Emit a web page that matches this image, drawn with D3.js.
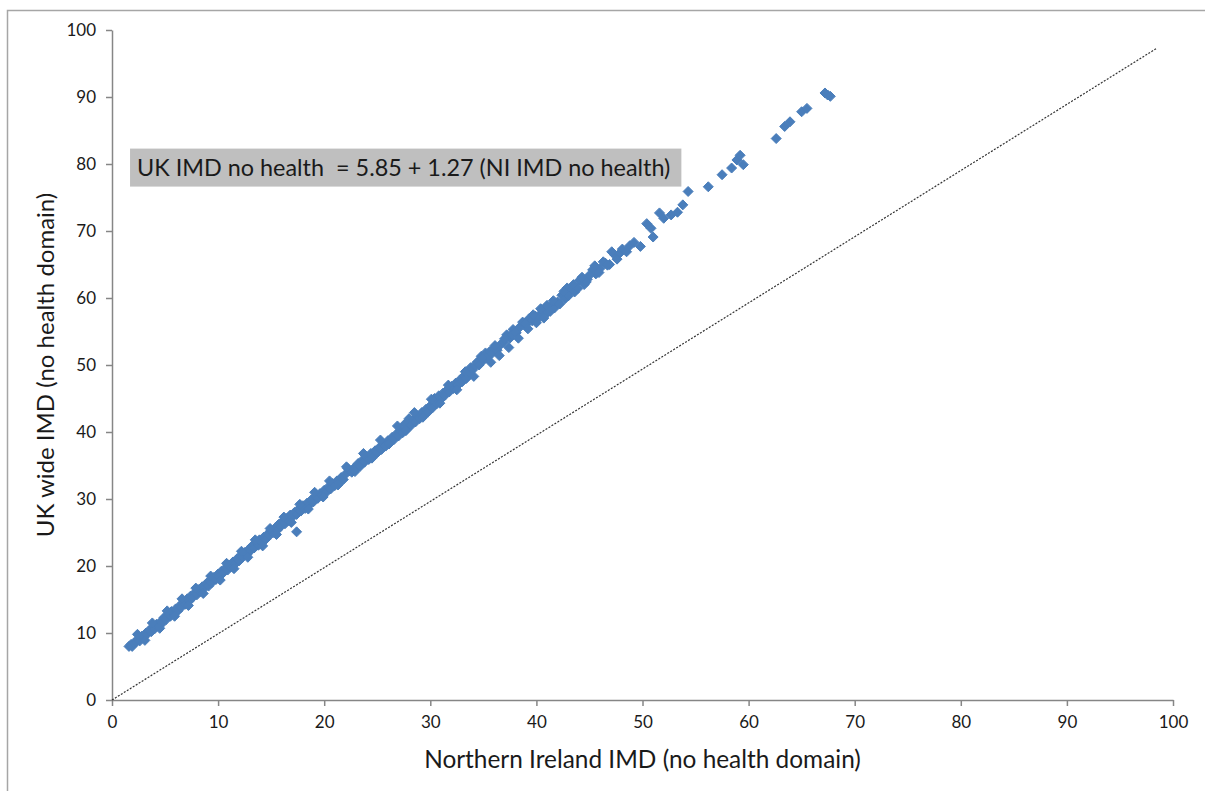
<!DOCTYPE html>
<html>
<head>
<meta charset="utf-8">
<script src="https://cdn.jsdelivr.net/npm/d3@7"></script>
<style>
  body { margin: 0; background: #fff; }
  svg { display: block; font-family: Lato, "Open Sans", sans-serif; }
  .axis path, .axis line { stroke: #868686; }
  .axis text { fill: #1a1a1a; font-size: 17px; font-family: Lato, sans-serif; }
</style>
</head>
<body>
<div id="chart"></div>
<script>
// Northern Ireland IMD vs UK wide IMD (both without the health domain)
var niImd = [1.6, 1.8, 1.9, 2.1, 2.3, 2.5, 2.6, 2.8, 3.0, 3.2, 3.3, 3.5, 3.7, 3.9, 4.0, 4.2, 4.4, 4.6, 4.7, 4.9,
  5.1, 5.3, 5.5, 5.6, 5.8, 6.0, 6.2, 6.4, 6.5, 6.7, 6.9, 7.1, 7.3, 7.4, 7.6, 7.8, 8.0, 8.2, 8.3, 8.5,
  8.7, 8.9, 9.1, 9.2, 9.4, 9.6, 9.8, 10.0, 10.1, 10.3, 10.5, 10.7, 10.9, 11.0, 11.2, 11.4, 11.6, 11.8, 12.0, 12.1,
  12.3, 12.5, 12.7, 12.9, 13.0, 13.2, 13.4, 13.6, 13.8, 13.9, 14.1, 14.3, 14.5, 14.7, 14.8, 15.0, 15.2, 15.4, 15.6, 15.7,
  15.9, 16.1, 16.3, 16.5, 16.6, 16.8, 17.0, 17.4, 17.2, 17.4, 17.6, 17.8, 18.0, 18.2, 18.4, 18.6, 18.8, 19.0, 19.2, 19.4,
  19.6, 19.8, 20.0, 20.2, 20.4, 20.6, 20.8, 21.0, 21.2, 21.4, 21.6, 21.8, 22.0, 22.2, 22.4, 22.6, 22.8, 23.0, 23.2, 23.4,
  23.6, 23.8, 24.0, 24.2, 24.4, 24.6, 24.8, 25.0, 25.2, 25.4, 25.6, 25.8, 26.0, 26.2, 26.4, 26.6, 26.8, 27.0, 27.2, 27.4,
  27.6, 27.8, 28.0, 28.2, 28.4, 28.6, 28.8, 29.0, 29.2, 29.4, 29.6, 29.8, 30.0, 30.2, 30.4, 30.6, 30.8, 31.0, 31.2, 31.4,
  31.6, 31.8, 32.0, 32.2, 32.4, 32.6, 32.8, 33.0, 33.2, 33.4, 33.6, 33.8, 34.0, 34.2, 34.4, 34.6, 34.8, 35.0, 35.2, 35.4,
  35.6, 35.8, 36.0, 36.3, 36.6, 36.9, 37.2, 37.5, 37.8, 38.1, 38.4, 38.7, 39.0, 39.3, 39.6, 39.9, 40.2, 40.5, 40.8, 41.1,
  41.4, 41.7, 42.0, 42.4, 42.7, 42.9, 43.3, 43.6, 44.1, 44.5, 44.8, 45.3, 45.6, 46.0, 46.5, 46.9, 47.4, 47.8, 48.1, 48.5,
  48.8, 49.2, 49.8, 50.4, 51.0, 50.8, 51.6, 52.0, 52.7, 53.3, 53.8, 54.3, 56.2, 57.5, 58.4, 59.5, 58.9, 59.2, 62.6, 63.4,
  63.9, 65.0, 65.5, 67.2, 67.45, 67.7,
  2.4, 3.1, 3.8, 4.5, 5.2, 5.9, 6.6, 7.2, 7.9, 8.6, 9.3, 10.2, 10.8, 11.5, 12.2, 12.8, 13.5, 14.2, 14.9, 15.5,
  16.2, 16.9, 17.7, 18.5, 19.1, 19.9, 20.5, 21.3, 22.1, 22.9, 23.7, 24.5, 25.3, 26.1, 26.9, 27.7, 28.5, 29.3, 30.1, 30.9,
  31.7, 32.5, 33.3, 34.1, 34.9, 35.7, 36.1, 36.5, 37.0, 37.4, 37.7, 38.0, 38.3, 38.9, 39.2, 39.7, 40.0, 40.4, 40.7, 41.0,
  41.3, 41.6, 42.2, 42.6, 43.0, 43.5, 43.9, 44.3, 44.7, 45.0, 45.5, 45.9, 46.3, 46.7, 47.1, 47.6];
var ukImd = [8.0, 8.3, 8.0, 8.6, 8.7, 9.1, 8.8, 9.5, 9.4, 10.0, 9.8, 10.4, 10.2, 10.9, 10.6, 11.3, 11.1, 11.7, 11.4, 12.3,
  12.0, 12.7, 12.5, 13.2, 13.0, 13.6, 13.3, 14.1, 13.8, 14.5, 14.3, 15.1, 14.8, 15.5, 15.3, 16.0, 15.7, 16.5, 16.2, 16.9,
  16.7, 17.4, 17.0, 17.8, 17.5, 18.3, 18.0, 18.8, 18.4, 19.2, 19.0, 19.7, 19.4, 20.1, 19.9, 20.6, 20.3, 21.1, 20.8, 21.5,
  21.3, 22.0, 21.7, 22.5, 22.2, 23.0, 22.7, 23.4, 23.1, 23.9, 23.6, 24.3, 24.0, 24.8, 24.5, 25.3, 25.0, 25.7, 25.4, 26.2,
  25.9, 26.7, 26.3, 27.1, 26.8, 27.6, 27.3, 25.1, 28.0, 27.7, 28.5, 28.2, 29.0, 28.6, 29.4, 29.1, 29.9, 29.6, 30.4, 30.1,
  30.8, 30.5, 31.3, 31.0, 31.8, 31.5, 32.3, 32.0, 32.7, 32.4, 33.2, 32.9, 33.7, 34.6, 34.2, 34.0, 34.6, 34.5, 35.3, 34.9,
  35.8, 35.5, 36.3, 35.9, 36.8, 36.4, 37.2, 36.9, 37.7, 37.4, 38.2, 37.9, 38.7, 38.4, 39.2, 38.9, 39.7, 39.4, 40.2, 39.9,
  41.2, 40.5, 42.0, 41.0, 41.8, 41.5, 42.3, 42.0, 42.9, 42.5, 43.4, 43.0, 43.9, 43.6, 45.0, 44.2, 45.4, 44.9, 45.8, 45.5,
  46.3, 46.0, 46.8, 46.5, 47.3, 47.0, 47.8, 47.5, 48.4, 48.0, 48.9, 49.6, 49.3, 49.9, 50.4, 50.0, 51.3, 50.7, 51.8, 51.2,
  52.0, 51.7, 52.5, 52.2, 53.0, 53.4, 54.5, 54.0, 55.3, 54.8, 55.6, 56.4, 56.0, 56.9, 56.6, 57.3, 57.0, 57.8, 58.3, 57.9,
  58.8, 58.5, 59.4, 60.4, 59.9, 61.5, 61.2, 60.9, 62.7, 62.0, 62.8, 64.2, 63.6, 64.4, 65.2, 65.0, 66.4, 66.6, 67.3, 66.9,
  67.8, 68.3, 67.7, 71.1, 69.1, 70.4, 72.7, 71.9, 72.4, 72.8, 73.9, 75.9, 76.6, 78.4, 79.4, 79.9, 80.6, 81.3, 83.8, 85.6,
  86.3, 87.8, 88.3, 90.6, 90.3, 90.1,
  9.8, 8.9, 11.5, 10.7, 13.3, 12.5, 15.1, 14.1, 16.7, 15.9, 18.5, 17.9, 20.4, 19.6, 22.2, 21.3, 23.9, 23.0, 25.6, 24.7,
  27.3, 26.5, 29.2, 28.5, 31.0, 30.3, 32.7, 32.1, 34.8, 34.1, 36.8, 36.1, 38.8, 38.2, 40.9, 40.2, 42.9, 42.2, 44.9, 44.3,
  47.0, 46.3, 49.0, 48.3, 51.0, 50.4, 52.9, 51.4, 53.9, 52.6, 54.6, 54.9, 54.0, 56.2, 55.4, 57.5, 56.3, 58.4, 57.0, 58.9,
  58.0, 59.6, 59.1, 61.0, 60.3, 62.0, 61.4, 63.1, 62.4, 63.4, 64.8, 63.8, 65.4, 64.9, 66.9, 65.8];

// reference line drawn on the chart
var refLineX = [0, 98.5];
var refLineY = [0, 97.3];

var xTicks = [0, 10, 20, 30, 40, 50, 60, 70, 80, 90, 100];
var yTicks = [0, 10, 20, 30, 40, 50, 60, 70, 80, 90, 100];

var xTitle = "Northern Ireland IMD (no health domain)";
var yTitle = "UK wide IMD (no health domain)";
var equation = "UK IMD no health  = 5.85 + 1.27 (NI IMD no health)";

var svg = d3.select("#chart").append("svg").attr("width", 1205).attr("height", 791),
  margin = {top: 30, right: 32, bottom: 91, left: 112},
  width = +svg.attr("width") - margin.left - margin.right,
  height = +svg.attr("height") - margin.top - margin.bottom;

// outer chart frame (runs off the right and bottom edges)
svg.append("rect")
  .attr("x", 7.5).attr("y", 10.5)
  .attr("width", 1300).attr("height", 900)
  .attr("fill", "none")
  .attr("stroke", "#a6a6a6")
  .attr("stroke-width", 1.5);

var g = svg.append("g").attr("transform", "translate(" + margin.left + "," + margin.top + ")");

var x = d3.scaleLinear().domain([0, 100]).range([0, width]);
var y = d3.scaleLinear().domain([0, 100]).range([height, 0]);

g.append("g")
  .attr("class", "axis axis--x")
  .attr("transform", "translate(0," + height + ")")
  .call(d3.axisBottom(x).tickValues(xTicks).tickSize(6).tickSizeOuter(0).tickPadding(10));

g.append("g")
  .attr("class", "axis axis--y")
  .call(d3.axisLeft(y).tickValues(yTicks).tickSize(6).tickSizeOuter(0).tickPadding(10));

g.selectAll(".axis path, .axis line").attr("stroke-width", 1.5);

// dotted reference line
g.append("line")
  .attr("x1", x(refLineX[0])).attr("y1", y(refLineY[0]))
  .attr("x2", x(refLineX[1])).attr("y2", y(refLineY[1]))
  .attr("stroke", "#333")
  .attr("stroke-width", 1.2)
  .attr("stroke-dasharray", "2,1.5");

// diamond markers
var r = 5;
var diamond = "M0," + (-r) + "L" + r + ",0L0," + r + "L" + (-r) + ",0Z";
g.selectAll(".pt")
  .data(niImd.map(function (d, i) { return [d, ukImd[i]]; }))
  .enter().append("path")
  .attr("class", "pt")
  .attr("d", diamond)
  .attr("transform", function (d) {
    return "translate(" + x(d[0]) + "," + y(d[1]) + ")";
  })
  .attr("fill", "#4a7ebb")
  .attr("stroke", "#4a7ebb")
  .attr("stroke-width", 1);

// regression equation label
var eqG = g.append("g").attr("transform", "translate(" + x(1.7) + "," + y(82.3) + ")");
var eqRect = eqG.append("rect").attr("fill", "#bfbfbf");
var eqText = eqG.append("text")
  .attr("x", 7).attr("y", 27)
  .style("font-size", "23.4px")
  .style("fill", "#1a1a1a")
  .style("white-space", "pre")
  .text(equation);
var eqW = eqText.node().getComputedTextLength();
eqRect.attr("width", eqW + 18).attr("height", 38);

// axis titles
svg.append("text")
  .attr("x", margin.left + width / 2)
  .attr("y", 768)
  .attr("text-anchor", "middle")
  .style("font-size", "24.4px")
  .style("fill", "#1a1a1a")
  .text(xTitle);

svg.append("text")
  .attr("transform", "translate(54," + (margin.top + height / 2) + ") rotate(-90)")
  .attr("text-anchor", "middle")
  .style("font-size", "24px")
  .style("fill", "#1a1a1a")
  .text(yTitle);
</script>
</body>
</html>
